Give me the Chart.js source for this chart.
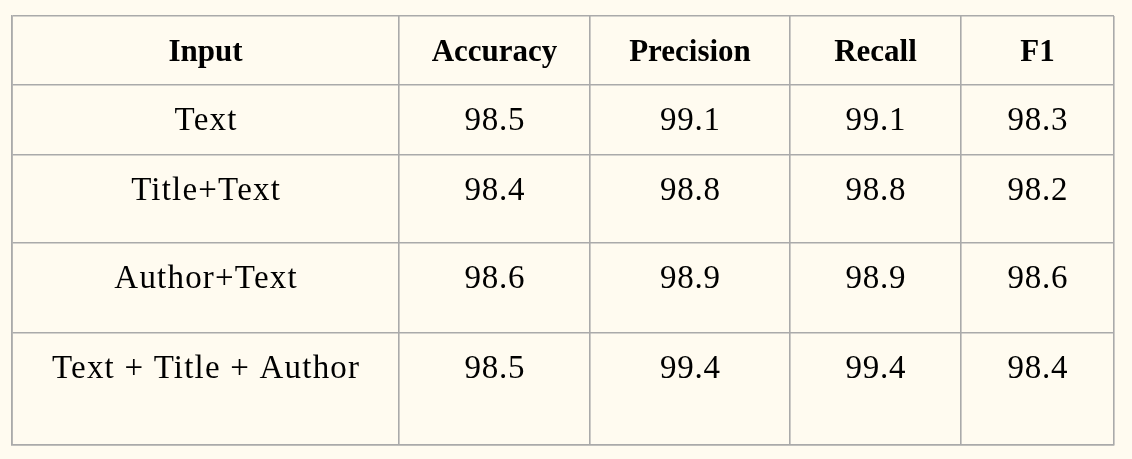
<!DOCTYPE html>
<html>
<head>
<meta charset="utf-8">
<script src="https://cdn.jsdelivr.net/npm/chart.js@4/dist/chart.umd.min.js"></script>
<style>
  html, body { margin: 0; padding: 0; background: #fffbf0; }
  #wrap { width: 1132px; height: 459px; }
</style>
</head>
<body>
<div id="wrap"><canvas id="c" width="1132" height="459"></canvas></div>
<script>
// ---- data ----
const headers = ["Input", "Accuracy", "Precision", "Recall", "F1"];
const inputs = ["Text", "Title+Text", "Author+Text", "Text + Title + Author"];
const accuracy = [98.5, 98.4, 98.6, 98.5];
const precision = [99.1, 98.8, 98.9, 99.4];
const recall = [99.1, 98.8, 98.9, 99.4];
const f1 = [98.3, 98.2, 98.6, 98.4];

// ---- layout (table units = pixels inside the table frame) ----
const colEdges = [0, 387, 578, 778, 949, 1102];
const rowEdges = [0, 69, 139, 227, 317, 429];
const baselineOffset = 45;

const columns = [inputs, accuracy, precision, recall, f1];

const tablePlugin = {
  id: 'tableText',
  afterDraw(chart) {
    const ctx = chart.ctx;
    const xs = chart.scales.x, ys = chart.scales.y;
    ctx.save();
    ctx.fillStyle = '#000';
    ctx.textAlign = 'center';
    ctx.textBaseline = 'alphabetic';
    const cx = c => xs.getPixelForValue((colEdges[c] + colEdges[c + 1]) / 2);
    const by = r => ys.getPixelForValue(rowEdges[r] + baselineOffset);
    ctx.font = 'bold 31px "Liberation Serif", serif';
    if ('letterSpacing' in ctx) ctx.letterSpacing = '0px';
    headers.forEach((h, c) => ctx.fillText(h, cx(c), by(0)));
    ctx.font = '33px "Liberation Serif", serif';
    columns.forEach((col, c) => {
      col.forEach((v, r) => {
        const s = typeof v === 'number' ? v.toFixed(1) : v;
        const ls = typeof v === 'number' ? 0.8 : 1.2;
        if ('letterSpacing' in ctx) ctx.letterSpacing = ls + 'px';
        // compensate trailing letter spacing so text stays centred
        ctx.fillText(s, cx(c) + ls / 2, by(r + 1));
      });
    });
    ctx.restore();
  }
};

const bgPlugin = {
  id: 'bg',
  beforeDraw(chart) {
    const ctx = chart.ctx;
    ctx.save();
    ctx.fillStyle = '#fffbf0';
    ctx.fillRect(0, 0, chart.width, chart.height);
    ctx.restore();
  }
};

const gridOpts = { display: true, color: '#aaaaaa', lineWidth: 1.6, drawTicks: false };

new Chart(document.getElementById('c'), {
  type: 'scatter',
  data: { datasets: [{ data: [], pointRadius: 0 }] },
  options: {
    responsive: false,
    animation: false,
    devicePixelRatio: 1,
    layout: { padding: { left: 12, top: 16, right: 18, bottom: 14 } },
    plugins: { legend: { display: false }, tooltip: { enabled: false } },
    events: [],
    scales: {
      x: {
        type: 'linear', min: colEdges[0], max: colEdges[colEdges.length - 1],
        afterBuildTicks: s => { s.ticks = colEdges.map(v => ({ value: v })); },
        ticks: { display: false },
        grid: gridOpts,
        border: { display: true, color: '#aaaaaa', width: 1.6 }
      },
      y: {
        type: 'linear', reverse: true, min: rowEdges[0], max: rowEdges[rowEdges.length - 1],
        afterBuildTicks: s => { s.ticks = rowEdges.map(v => ({ value: v })); },
        ticks: { display: false },
        grid: gridOpts,
        border: { display: true, color: '#aaaaaa', width: 1.6 }
      }
    }
  },
  plugins: [bgPlugin, tablePlugin]
});
</script>
</body>
</html>
